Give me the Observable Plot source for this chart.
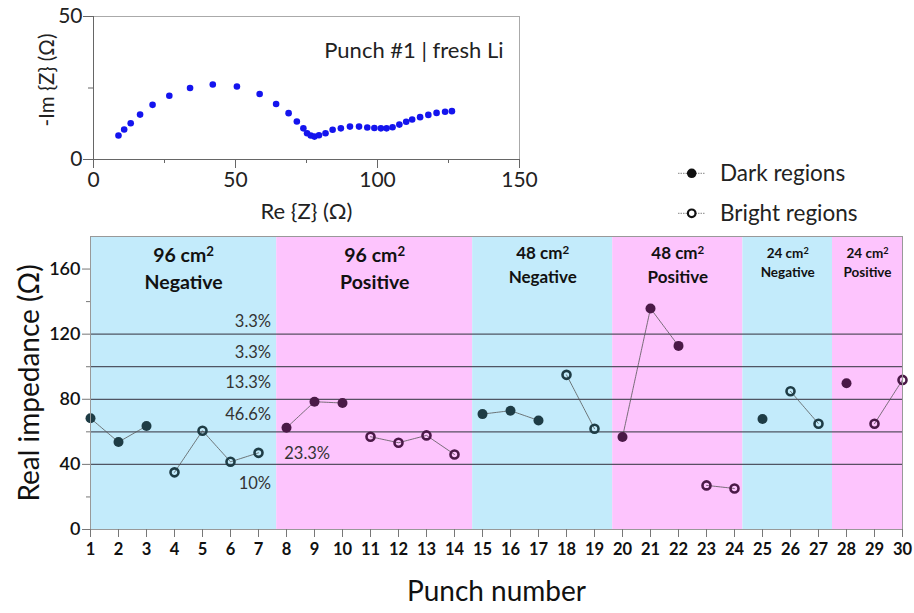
<!DOCTYPE html>
<html>
<head>
<meta charset="utf-8">
<script src="https://cdn.jsdelivr.net/npm/d3@7"></script>
<script src="https://cdn.jsdelivr.net/npm/@observablehq/plot@0.6"></script>
<style>
  body { margin: 0; background: #fff; font-family: Lato, "Noto Sans", sans-serif; }
  #wrap { position: relative; width: 914px; height: 613px; }
  #inset { position: absolute; left: 0; top: 0; }
  #legend { position: absolute; left: 670px; top: 155px; }
  #main { position: absolute; left: 0; top: 230px; }
  svg { font-family: Lato, "Noto Sans", sans-serif; }
</style>
</head>
<body>
<div id="wrap">
  <div id="inset"></div>
  <div id="legend"></div>
  <div id="main"></div>
</div>
<script>
// ---------- Inset: Nyquist plot of punch #1 ----------
const nyRe = [8.8,10.8,13.1,16.4,20.8,26.7,34.0,42.0,50.5,58.5,64.3,68.7,71.6,73.9,75.2,76.5,77.8,79.4,81.7,84.2,87.1,90.3,93.5,96.4,98.9,101.2,103.2,105.3,107.7,110.1,112.2,115.0,117.9,120.8,123.8,126.2];
const nyIm = [8.4,10.5,12.7,15.7,19.1,22.3,25.0,26.2,25.5,22.9,19.4,16.2,13.3,10.9,9.2,8.4,8.0,8.5,9.2,10.4,10.9,11.5,11.5,11.2,11.0,10.9,10.9,11.3,12.2,13.2,14.0,14.8,15.6,16.3,16.7,16.9];
const insetTitle = "Punch #1 | fresh Li";
const insetXTicks = [0, 50, 100, 150];
const insetXMinor = [25, 75, 125];
const insetYTicks = [0, 50];
const insetYMinor = [25];

// ---------- Main chart ----------
const punches = d3.range(1, 31);
const impedance = [68.3,53.7,63.6,35.1,60.7,41.6,47.1,62.5,78.5,77.7,57.0,53.3,57.8,46.1,70.9,73.0,67.0,95.0,61.9,56.8,135.8,112.8,27.1,25.2,67.9,84.9,65.0,89.8,65.0,91.9];
const regionKind = ["dark","dark","dark","bright","bright","bright","bright","dark","dark","dark","bright","bright","bright","bright","dark","dark","dark","bright","bright","dark","dark","dark","bright","bright","dark","bright","bright","dark","bright","bright"];
const segment = [1,1,1,2,2,2,2,3,3,3,4,4,4,4,5,5,5,6,6,7,7,7,8,8,9,10,10,11,12,12];

const regionStart = [1, 7.65, 14.65, 19.65, 24.3, 27.5];
const regionEnd = [7.65, 14.65, 19.65, 24.3, 27.5, 30];
const regionArea = ["96 cm²", "96 cm²", "48 cm²", "48 cm²", "24 cm²", "24 cm²"];
const regionSide = ["Negative", "Positive", "Negative", "Positive", "Negative", "Positive"];

const gridValues = [40, 60, 80, 100, 120];
const pctLabels = ["3.3%", "3.3%", "13.3%", "46.6%", "23.3%", "10%"];
const pctY = [127.8, 108.3, 89.9, 70.5, 46.5, 28.1];
const pctX = [7.45, 7.45, 7.45, 7.45, 7.92, 7.45];
const pctAnchor = ["end", "end", "end", "end", "start", "end"];

const yMajor = [0, 40, 80, 120, 160];
const yMinor = [20, 60, 100, 140];
const legendLabels = ["Dark regions", "Bright regions"];

const bgColor = {Negative: "#c3ebfb", Positive: "#fdc4fd"};
const ptColor = {Negative: "#1e3c45", Positive: "#4a1947"};

const regions = regionStart.map((s, i) => ({
  x1: s, x2: regionEnd[i], mid: (s + regionEnd[i]) / 2,
  area: regionArea[i], side: regionSide[i], idx: i
}));
function regionOf(p) {
  return regions.find(r => p >= r.x1 && p <= r.x2);
}
const pts = punches.map((p, i) => ({
  punch: p, value: impedance[i], kind: regionKind[i], seg: segment[i],
  color: ptColor[regionOf(p).side]
}));
const pcts = pctLabels.map((t, i) => ({t, x: pctX[i], y: pctY[i], a: pctAnchor[i]}));
const ny = nyRe.map((r, i) => ({re: r, im: nyIm[i]}));

// ----- inset plot -----
const inset = Plot.plot({
  width: 560, height: 230,
  marginLeft: 93, marginRight: 41, marginTop: 16, marginBottom: 71,
  style: {fontFamily: "Lato, 'Noto Sans', sans-serif", color: "#222", overflow: "visible"},
  x: {domain: [0, 150]},
  y: {domain: [0, 50]},
  marks: [
    Plot.frame({stroke: "#aaa"}),
    Plot.ruleY([0], {stroke: "#666"}),
    Plot.ruleX([0], {stroke: "#666"}),
    Plot.axisX({ticks: insetXTicks, tickSize: 9, tickPadding: 4, fontSize: 21, label: null, stroke: "#666", fill: "#222"}),
    Plot.axisX({ticks: insetXMinor, tickSize: 4, tickFormat: () => "", label: null, stroke: "#666"}),
    Plot.axisY({ticks: insetYTicks, tickSize: 10, tickPadding: 1, fontSize: 21, label: null, stroke: "#666", fill: "#222"}),
    Plot.axisY({ticks: insetYMinor, tickSize: 5, tickFormat: () => "", label: null, stroke: "#666"}),
    Plot.dot(ny, {x: "re", y: "im", r: 3.3, fill: "#1414ee"}),
    Plot.text([insetTitle], {frameAnchor: "top-right", dx: -16, dy: 34, fontSize: 22, textAnchor: "end", lineAnchor: "middle", fill: "#222"}),
    Plot.text(["-Im {Z} (Ω)"], {frameAnchor: "left", rotate: -90, dx: -46, dy: -8, fontSize: 20.5, textAnchor: "middle", lineAnchor: "middle", fill: "#222"}),
    Plot.text(["Re {Z} (Ω)"], {frameAnchor: "bottom", dy: 52, fontSize: 22, textAnchor: "middle", lineAnchor: "middle", fill: "#222"})
  ]
});
document.getElementById("inset").appendChild(inset);

// ----- legend -----
const lg = d3.select("#legend").append("svg").attr("width", 244).attr("height", 80);
legendLabels.forEach((lab, i) => {
  const cy = 18.3 + i * 40;
  const g = lg.append("g");
  g.append("line").attr("x1", 8).attr("x2", 35).attr("y1", cy).attr("y2", cy)
    .attr("stroke", "#666").attr("stroke-width", 0.8).attr("stroke-dasharray", "1.5,1");
  if (i === 0) {
    g.append("circle").attr("cx", 21.7).attr("cy", cy).attr("r", 4.8).attr("fill", "#111");
  } else {
    g.append("circle").attr("cx", 21.7).attr("cy", cy).attr("r", 3.8).attr("fill", "#fff")
      .attr("stroke", "#111").attr("stroke-width", 2.2);
  }
  g.append("text").attr("x", 50).attr("y", cy).attr("dy", "0.35em")
    .attr("font-size", 22.5).attr("fill", "#222").text(lab);
});

// ----- main plot -----
const areaSize = [19.5, 19.5, 17, 17, 13.5, 13.5];
const areaDy = [19, 19, 17, 17, 17, 17];
const sideDy = [46, 46, 41, 41, 36, 36];
const main = Plot.plot({
  width: 914, height: 383,
  marginTop: 6, marginBottom: 84, marginLeft: 90, marginRight: 12,
  style: {fontFamily: "Lato, 'Noto Sans', sans-serif", color: "#111", overflow: "visible"},
  x: {domain: [1, 30]},
  y: {domain: [0, 180]},
  marks: [
    Plot.rect(regions, {x1: "x1", x2: "x2", y1: 0, y2: 180, fill: d => bgColor[d.side]}),
    Plot.ruleY(gridValues, {stroke: "#3b3b48", strokeWidth: 1.3, strokeOpacity: 0.85}),
    Plot.line(pts, {x: "punch", y: "value", z: "seg", stroke: "#555", strokeWidth: 0.8, strokeDasharray: "1.6,0.8"}),
    Plot.dot(pts.filter(d => d.kind === "dark"), {x: "punch", y: "value", r: 5, fill: "color"}),
    Plot.dot(pts.filter(d => d.kind === "bright"), {x: "punch", y: "value", r: 4, fill: "none", stroke: "color", strokeWidth: 2.6}),
    Plot.text(pcts.filter(d => d.a === "end"), {x: "x", y: "y", text: "t", textAnchor: "end", fontSize: 16.5, fill: "#333"}),
    Plot.text(pcts.filter(d => d.a === "start"), {x: "x", y: "y", text: "t", textAnchor: "start", fontSize: 16.5, fill: "#333"}),
    ...regions.map((r, i) => Plot.text([r], {x: "mid", frameAnchor: "top", dy: areaDy[i], text: "area", fontSize: areaSize[i], fontWeight: "bold", textAnchor: "middle", lineAnchor: "middle", fill: "#111", className: "area-label"})),
    ...regions.map((r, i) => Plot.text([r], {x: "mid", frameAnchor: "top", dy: sideDy[i], text: "side", fontSize: areaSize[i], fontWeight: "bold", textAnchor: "middle", lineAnchor: "middle", fill: "#111"})),
    Plot.frame({stroke: "#999"}),
    Plot.axisY({ticks: yMajor, tickSize: 8, tickPadding: 2, fontSize: 18, fontWeight: 600, label: null, stroke: "#777", fill: "#111"}),
    Plot.axisY({ticks: yMinor, tickSize: 4, tickFormat: () => "", label: null, stroke: "#777"}),
    Plot.axisX({ticks: punches, tickSize: 8, tickPadding: 6, fontSize: 16.5, fontWeight: "bold", tickFormat: d => String(d), label: null, stroke: "#777", fill: "#111"}),
    Plot.text(["Real impedance (Ω)"], {frameAnchor: "left", rotate: -90, dx: -60, fontSize: 28, textAnchor: "middle", lineAnchor: "middle", fill: "#111"}),
    Plot.text(["Punch number"], {frameAnchor: "bottom", dy: 63, fontSize: 28, textAnchor: "middle", lineAnchor: "middle", fill: "#111"})
  ]
});
document.getElementById("main").appendChild(main);

// render the "²" as a proper raised superscript
d3.select(main).selectAll("text").each(function() {
  const el = d3.select(this);
  const t = this.textContent;
  if (this.childElementCount === 0 && /cm²$/.test(t)) {
    el.text(t.replace("²", ""));
    el.append("tspan").attr("dy", "-0.45em").attr("font-size", "0.68em").text("2");
  }
});
</script>
</body>
</html>
